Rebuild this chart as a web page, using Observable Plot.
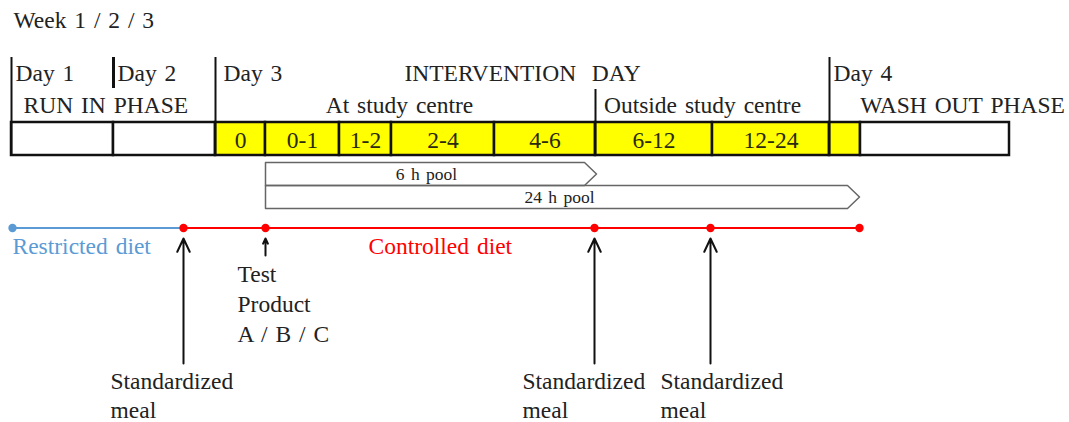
<!DOCTYPE html>
<html><head><meta charset="utf-8">
<script src="https://cdn.jsdelivr.net/npm/d3@7"></script>
<script src="https://cdn.jsdelivr.net/npm/@observablehq/plot@0.6"></script>
<style>body{margin:0;background:#fff} svg{display:block} svg text{word-spacing:2px}</style>
</head><body><div id="chart"></div>
<script>
const F = "Liberation Serif";
const INK = "#222";
const FS = 23.5;

// Timeline cells (edges in diagram units along the time axis)
const cellEdges = [11, 113, 215, 265, 339, 391, 494, 595, 712, 829, 860, 1009];
const cellLabels = ["", "", "0", "0-1", "1-2", "2-4", "4-6", "6-12", "12-24", "", ""];
const cellKinds = ["pre", "pre", "int", "int", "int", "int", "int", "int", "int", "int", "post"];

// Day / phase divider lines
const dividerX = [11, 113, 215, 595, 829];
const dividerTop = [57, 57, 57, 89, 57];
const dividerBottom = [155, 88, 155, 155, 155];
const dividerWeight = [2, 3, 2, 2, 2];

// Header texts
const headStartTexts = ["Week 1 / 2 / 3", "Day 1", "Day 2", "Day 3", "Day 4", "RUN IN PHASE"];
const headStartX = [13, 15, 117, 223, 833, 23];
const headStartY = [19.5, 72.5, 72.5, 72.5, 72.5, 104.5];
const headMidTexts = ["INTERVENTION  DAY", "At study centre", "Outside study centre", "WASH OUT PHASE"];
const headMidX = [522, 399, 702, 962];
const headMidY = [72.5, 104.5, 104.5, 104.5];

// Urine pools
const poolLabels = ["6 h pool", "24 h pool"];
const poolFrom = [265, 265];
const poolTo = [596, 859];
const poolTop = [162, 185];
const poolBottom = [185, 208];
const poolLabelX = [426, 559];

// Diet timeline
const dietLabels = ["Restricted diet", "Controlled diet"];
const dietFrom = [12, 183];
const dietTo = [183, 859];
const dietLabelX = [12, 368];
const dotX = [12, 183, 265, 594, 710, 859];
const dotDiet = ["Restricted diet", "Controlled diet", "Controlled diet", "Controlled diet", "Controlled diet", "Controlled diet"];

// Events
const eventX = [183, 265, 594, 710];
const eventArrowFrom = [363, 255, 363, 363];
const eventLabels = ["Standardized\nmeal", "Test\nProduct\nA / B / C", "Standardized\nmeal", "Standardized\nmeal"];
const eventLabelX = [110, 237, 522, 660];
const eventLabelY = [394, 302, 394, 394];
const eventLineHeight = [1.22, 1.27, 1.22, 1.22];

const LINE_Y = 227.5;
const ARROW_TIP = 238;

const cells = cellLabels.map((label, i) => ({label, x1: cellEdges[i], x2: cellEdges[i + 1], kind: cellKinds[i]}));
const dividers = dividerX.map((x, i) => ({x, y1: dividerTop[i], y2: dividerBottom[i], w: dividerWeight[i]}));
const headStart = headStartTexts.map((t, i) => ({t, x: headStartX[i], y: headStartY[i]}));
const headMid = headMidTexts.map((t, i) => ({t, x: headMidX[i], y: headMidY[i]}));
const poolPts = [];
poolLabels.forEach((p, i) => {
  const mid = (poolTop[i] + poolBottom[i]) / 2, tip = 12;
  [[poolFrom[i], poolTop[i]], [poolTo[i] - tip, poolTop[i]], [poolTo[i], mid], [poolTo[i] - tip, poolBottom[i]], [poolFrom[i], poolBottom[i]], [poolFrom[i], poolTop[i]]]
    .forEach(([x, y]) => poolPts.push({pool: p, x, y}));
});
const poolText = poolLabels.map((t, i) => ({t, x: poolLabelX[i], y: (poolTop[i] + poolBottom[i]) / 2}));
const diets = dietLabels.map((d, i) => ({d, x1: dietFrom[i], x2: dietTo[i], lx: dietLabelX[i]}));
const dots = dotX.map((x, i) => ({x, d: dotDiet[i]}));
const events = eventX.map((x, i) => ({x, y1: eventArrowFrom[i], label: eventLabels[i], lx: eventLabelX[i], ly: eventLabelY[i], lh: eventLineHeight[i]}));

const plot = Plot.plot({
  width: 1069, height: 422,
  margin: 0,
  x: {domain: [0, 1069], range: [0, 1069], axis: null},
  y: {domain: [0, 422], range: [0, 422], axis: null},
  color: {domain: ["pre", "int", "post", "Restricted diet", "Controlled diet"], range: ["#ffffff", "#ffff00", "#ffffff", "#5b9bd5", "#ff0000"]},
  style: {background: "#fff"},
  marks: [
    Plot.rect(cells, {x1: "x1", x2: "x2", y1: 122, y2: 155, fill: "kind", stroke: "#111", strokeWidth: 2.5}),
    Plot.text(cells, {x: d => (d.x1 + d.x2) / 2, y: 139.5, text: "label", fontFamily: F, fontSize: FS, fill: "#2a2a10", lineAnchor: "middle"}),
    ...dividers.map(d => Plot.ruleX([d], {x: "x", y1: "y1", y2: "y2", stroke: "#111", strokeWidth: d.w})),
    Plot.text(headStart, {x: "x", y: "y", text: "t", textAnchor: "start", fontFamily: F, fontSize: FS, fill: INK, lineAnchor: "middle"}),
    Plot.text(headMid, {x: "x", y: "y", text: "t", textAnchor: "middle", fontFamily: F, fontSize: FS, fill: INK, lineAnchor: "middle"}),
    Plot.line(poolPts, {x: "x", y: "y", z: "pool", stroke: "#666", strokeWidth: 1.5, curve: "linear"}),
    Plot.text(poolText, {x: "x", y: "y", text: "t", fontFamily: F, fontSize: 17.5, fill: INK, lineAnchor: "middle"}),
    Plot.ruleY(diets, {x1: "x1", x2: "x2", y: LINE_Y, stroke: "d", strokeWidth: 2.2}),
    Plot.text(diets, {x: "lx", y: 245.5, text: "d", fill: "d", textAnchor: "start", fontFamily: F, fontSize: FS, lineAnchor: "middle"}),
    Plot.dot(dots, {x: "x", y: LINE_Y, r: 4.2, fill: "d", stroke: null}),
    Plot.arrow(events, {x1: "x", x2: "x", y1: "y1", y2: ARROW_TIP, stroke: "#111", strokeWidth: 2, headLength: 11, headAngle: 50}),
    ...events.map(e => Plot.text([e], {x: "lx", y: "ly", text: "label", textAnchor: "start", fontFamily: F, fontSize: FS, fill: INK, lineAnchor: "middle", lineHeight: e.lh}))
  ]
});
plot.querySelectorAll("text").forEach(t => t.setAttribute("xml:space", "preserve"));
document.getElementById("chart").appendChild(plot);
</script>
</body></html>
